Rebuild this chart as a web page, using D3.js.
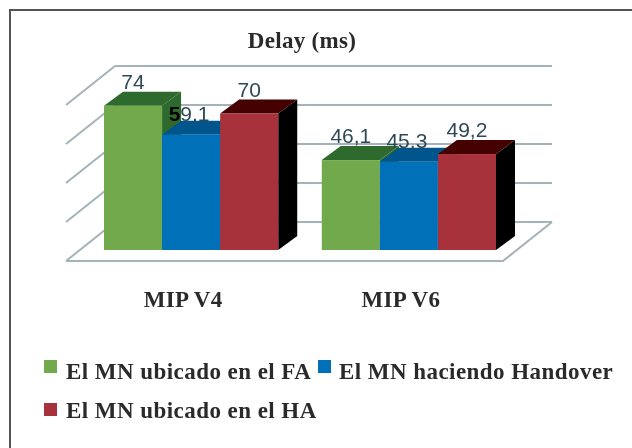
<!DOCTYPE html>
<html>
<head>
<meta charset="utf-8">
<script src="https://cdn.jsdelivr.net/npm/d3@7"></script>
<style>
  html, body { margin: 0; padding: 0; background: #fff; }
  text { font-family: "Liberation Serif", serif; }
</style>
</head>
<body>
<div id="wrapper"></div>
<script>
const groups = ["MIP V4", "MIP V6"]
const seriesNames = ["El MN ubicado en el FA", "El MN haciendo Handover", "El MN ubicado en el HA"]
const fa = [74, 46.1]
const handover = [59.1, 45.3]
const ha = [70, 49.2]
const gridValues = [0, 20, 40, 60, 80]
const labels = [["74", "46,1"], ["59,1", "45,3"], ["70", "49,2"]]

const width = 632
const height = 448
const seriesValues = [fa, handover, ha]
const frontColors = ["#72a94e", "#0070b8", "#a8323a"]
const topColors = ["#2d6a2d", "#05548c", "#450404"]
const sideColors = ["#2d6a2d", "#05548c", "#000000"]

// oblique offset of the 3d box
const depthX = 19
const depthY = -14

const wrapper = d3.select("#wrapper")
  .append("svg")
  .attr("width", width)
  .attr("height", height)

// source image is a soft upscaled screenshot
const soft = wrapper.append("defs").append("filter")
  .attr("id", "soft")
  .attr("x", "-5%").attr("y", "-5%").attr("width", "110%").attr("height", "110%")
soft.append("feGaussianBlur").attr("stdDeviation", 0.5)

// the frame only has a top and a left edge
wrapper.append("path")
  .attr("d", `M10,${height}V10H${width}`)
  .attr("fill", "none").attr("stroke", "#555").attr("stroke-width", 2)

const chart = wrapper.append("g").attr("filter", "url(#soft)")

const titleStyle = sel => sel
  .style("font-size", "23px").style("font-weight", "bold")
  .style("letter-spacing", "0.3px").attr("fill", "#2a2a2a")

chart.append("text")
  .attr("x", 302).attr("y", 48)
  .attr("text-anchor", "middle")
  .call(titleStyle)
  .text("Delay (ms)")

const y = d3.scaleLinear().domain([0, 80]).range([250, 94])
const x0 = d3.scaleBand().domain(groups).range([104, 496]).paddingInner(0.2)
const x1 = d3.scaleBand().domain(d3.range(3)).range([0, x0.bandwidth()])

const grid = chart.append("g")
  .attr("fill", "none").attr("stroke", "#a3b3b8").attr("stroke-width", 2)

// back wall lines, the side wall, then the floor
grid.selectAll(".wall").data(gridValues).join("line")
  .attr("x1", 115).attr("x2", 552)
  .attr("y1", d => y(d) - 28).attr("y2", d => y(d) - 28)
grid.selectAll(".side").data(gridValues).join("line")
  .attr("x1", 66).attr("x2", 115)
  .attr("y1", d => y(d) + 11).attr("y2", d => y(d) - 28)
grid.append("path")
  .attr("d", `M552,${y(0) - 28}L503,${y(0) + 11}H66`)

const bars = chart.append("g")

seriesValues.forEach((values, s) => {
  groups.forEach((g, i) => {
    const left = x0(g) + x1(s)
    const w = x1.bandwidth()
    const top = y(values[i])
    const base = y(0)
    const box = bars.append("g")

    box.append("path")
      .attr("fill", sideColors[s])
      .attr("d", `M${left + w},${top}l${depthX},${depthY}V${base + depthY}l${-depthX},${-depthY}Z`)
    box.append("path")
      .attr("fill", topColors[s])
      .attr("d", `M${left},${top}l${depthX},${depthY}h${w}l${-depthX},${-depthY}Z`)
    box.append("rect")
      .attr("x", left).attr("y", top)
      .attr("width", w).attr("height", base - top)
      .attr("fill", frontColors[s])
  })
})

const valueLabels = chart.append("g")
seriesValues.forEach((values, s) => {
  groups.forEach((g, i) => {
    const label = valueLabels.append("text")
      .attr("x", x0(g) + x1(s) + x1.bandwidth() / 2 - (s == 1 ? 2 : 0))
      .attr("y", y(values[i]) - (s == 1 ? 14 : 17))
      .attr("text-anchor", "middle")
      .style("font-family", "'Liberation Sans', sans-serif")
      .style("font-size", "21px")
      .attr("fill", "#2f4a55")
    // the 5 of 59,1 sits on the dark green side and reads black there
    if (labels[s][i] == "59,1") {
      label.append("tspan").attr("fill", "#000").style("font-weight", "bold").text("5")
      label.append("tspan").text("9,1")
    } else {
      label.text(labels[s][i])
    }
  })
})

chart.selectAll(".group").data(groups).join("text")
  .attr("x", d => x0(d) + x0.bandwidth() / 2 - 8)
  .attr("y", 307)
  .attr("text-anchor", "middle")
  .call(titleStyle)
  .text(d => d)

const legendPos = [[44, 360, 66, 379], [318, 360, 339, 379], [44, 403, 66, 418]]
seriesNames.forEach((name, s) => {
  const p = legendPos[s]
  chart.append("rect")
    .attr("x", p[0]).attr("y", p[1])
    .attr("width", 13).attr("height", 13)
    .attr("fill", frontColors[s])
  chart.append("text")
    .attr("x", p[2]).attr("y", p[3])
    .call(titleStyle)
    .style("letter-spacing", "0.45px")
    .text(name)
})
</script>
</body>
</html>
